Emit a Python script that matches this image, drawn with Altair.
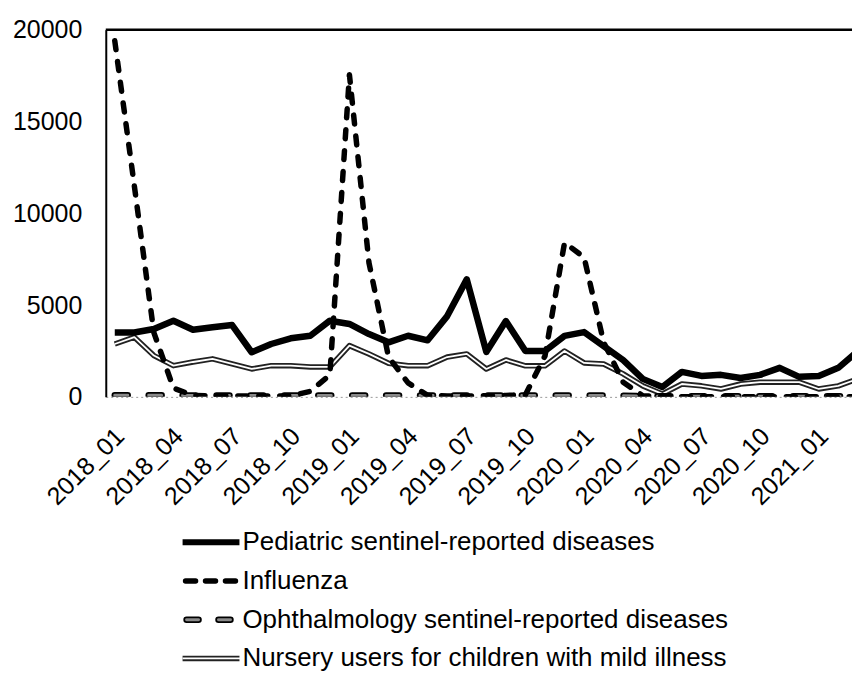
import altair as alt
import pandas as pd

FONT = "Liberation Sans"

# ---- data ----
months = [f"{y}_{m:02d}" for y in (2018, 2019, 2020, 2021) for m in range(1, 13)][:39]

pediatric = [3510, 3510, 3700, 4150, 3660, 3790, 3910, 2430, 2880, 3190, 3330, 4150,
             3970, 3420, 2970, 3330, 3080, 4400, 6400, 2450, 4130, 2500, 2500, 3320,
             3530, 2770, 2000, 980, 540, 1360, 1140, 1200, 1030, 1200, 1580, 1090,
             1140, 1580, 2500]
influenza = [19400, 11500, 3500, 480, 80, 50, 50, 50, 50, 60, 300, 1200,
             17550, 7300, 2170, 760, 80, 50, 50, 60, 80, 120, 2230, 8400,
             7600, 2980, 800, 60, 20, 10, 10, 10, 10, 10, 10, 10,
             10, 10, 10]
ophthalmology = [90, 90, 90, 80, 80, 80, 80, 80, 80, 80, 80, 80,
                 80, 80, 80, 80, 80, 80, 80, 80, 80, 80, 80, 80,
                 80, 80, 60, 40, 30, 40, 40, 40, 40, 40, 40, 40,
                 40, 40, 40]
nursery = [2880, 3250, 2250, 1700, 1900, 2070, 1800, 1520, 1700, 1700, 1630, 1630,
           2790, 2340, 1830, 1700, 1700, 2170, 2340, 1520, 2010, 1690, 1690, 2500,
           1850, 1790, 1250, 600, 160, 700, 600, 430, 700, 800, 800, 800,
           430, 600, 980]

series_names = [
    "Pediatric sentinel-reported diseases",
    "Influenza",
    "Ophthalmology sentinel-reported diseases",
    "Nursery users for children with mild illness",
]
tick_labels = ["2018_01", "2018_04", "2018_07", "2018_10", "2019_01", "2019_04",
               "2019_07", "2019_10", "2020_01", "2020_04", "2020_07", "2020_10",
               "2021_01"]
tick_values = [0, 3, 6, 9, 12, 15, 18, 21, 24, 27, 30, 33, 36]
y_ticks = [0, 5000, 10000, 15000, 20000]

rows = []
for name, vals in zip(series_names, [pediatric, influenza, ophthalmology, nursery]):
    for i, v in enumerate(vals):
        rows.append({"series": name, "idx": i, "month": months[i], "value": v})
df = pd.DataFrame(rows)

label_expr = "[" + ",".join(f"'{t}'" for t in tick_labels) + "][round(datum.value/3)]"

x_enc = alt.X("idx:Q",
              scale=alt.Scale(domain=[-0.46, 37.7], nice=False, zero=False),
              axis=alt.Axis(values=tick_values, labelExpr=label_expr, title=None,
                            ticks=False, labelAngle=-45, labelAlign="right",
                            labelBaseline="middle", labelPadding=35, labelOffset=5,
                            labelFontSize=25, labelColor="black", labelFont=FONT,
                            labelFlush=False, labelOverlap=False, labelBound=False,
                            domainColor="#999999", domainDash=[2, 3], domainWidth=1,
                            grid=False))
y_enc = alt.Y("value:Q",
              scale=alt.Scale(domain=[0, 20000], nice=False),
              axis=alt.Axis(values=y_ticks, format="d", title=None, ticks=False,
                            labelPadding=24, labelFontSize=25, labelColor="black",
                            labelFont=FONT, domainColor="black", domainWidth=2,
                            grid=False))

base = alt.Chart(df).encode(x=x_enc, y=y_enc)

def sel(name):
    return base.transform_filter(alt.datum.series == name)

nur_outer = sel(series_names[3]).mark_line(color="#222222", strokeWidth=5.5,
                                           strokeJoin="round", clip=True)
nur_inner = sel(series_names[3]).mark_line(color="white", strokeWidth=1.8,
                                           strokeJoin="round", clip=True)
oph_outer = sel(series_names[2]).mark_line(color="black", strokeWidth=6.5, strokeCap="round",
                                           strokeDash=[13, 21], clip=True)
oph_inner = sel(series_names[2]).mark_line(color="#8a8a8a", strokeWidth=3, strokeCap="round",
                                           strokeDash=[13, 21], clip=True)
ped = sel(series_names[0]).mark_line(color="black", strokeWidth=6.5, strokeJoin="round",
                                     clip=True)
flu = sel(series_names[1]).mark_line(color="black", strokeWidth=5.5, strokeCap="round",
                                     strokeJoin="round", strokeDash=[9, 12], clip=True)

top_rule = alt.Chart(pd.DataFrame({"v": [20000]})).mark_rule(
    color="black", strokeWidth=2.5).encode(y=alt.Y("v:Q", scale=alt.Scale(domain=[0, 20000])))

main = alt.layer(nur_outer, nur_inner, oph_outer, oph_inner, ped, flu, top_rule).properties(
    width=748, height=368)

# ---- legend ----
leg_df = pd.DataFrame({"name": series_names})
lbase = alt.Chart(leg_df).encode(
    y=alt.Y("name:N", scale=alt.Scale(domain=series_names, type="point", padding=0.33),
            axis=None))

def lsel(name):
    return lbase.transform_filter(alt.datum.name == name)

SX0, SX1 = 77, 134
l_ped = lsel(series_names[0]).mark_rule(color="black", strokeWidth=6).encode(
    x=alt.value(SX0), x2=alt.value(SX1))
l_flu = lsel(series_names[1]).mark_rule(color="black", strokeWidth=5.5, strokeCap="round",
                                         strokeDash=[10, 10]).encode(
    x=alt.value(SX0 + 3), x2=alt.value(SX1))
l_oph_o = lsel(series_names[2]).mark_rule(color="black", strokeWidth=6.5, strokeCap="round",
                                           strokeDash=[12, 20]).encode(
    x=alt.value(SX0 + 4), x2=alt.value(SX1))
l_oph_i = lsel(series_names[2]).mark_rule(color="#8a8a8a", strokeWidth=3, strokeCap="round",
                                           strokeDash=[12, 20]).encode(
    x=alt.value(SX0 + 4), x2=alt.value(SX1))
l_nur_o = lsel(series_names[3]).mark_rule(color="#222222", strokeWidth=5.5).encode(
    x=alt.value(SX0), x2=alt.value(SX1))
l_nur_i = lsel(series_names[3]).mark_rule(color="white", strokeWidth=1.8).encode(
    x=alt.value(SX0), x2=alt.value(SX1 + 1))
l_text = lbase.mark_text(align="left", baseline="middle", fontSize=26, font=FONT,
                         color="black").encode(x=alt.value(SX1 + 3), text="name:N")

legend = alt.layer(l_ped, l_flu, l_oph_o, l_oph_i, l_nur_o, l_nur_i, l_text).properties(
    width=748, height=142)

chart = alt.vconcat(main, legend, spacing=18).properties(
    padding={"left": 4, "top": 9, "right": 0, "bottom": 0}
).configure(font=FONT).configure_view(stroke="transparent", strokeWidth=0)

chart.save("out.html", embed_options={"renderer": "svg", "actions": False})
